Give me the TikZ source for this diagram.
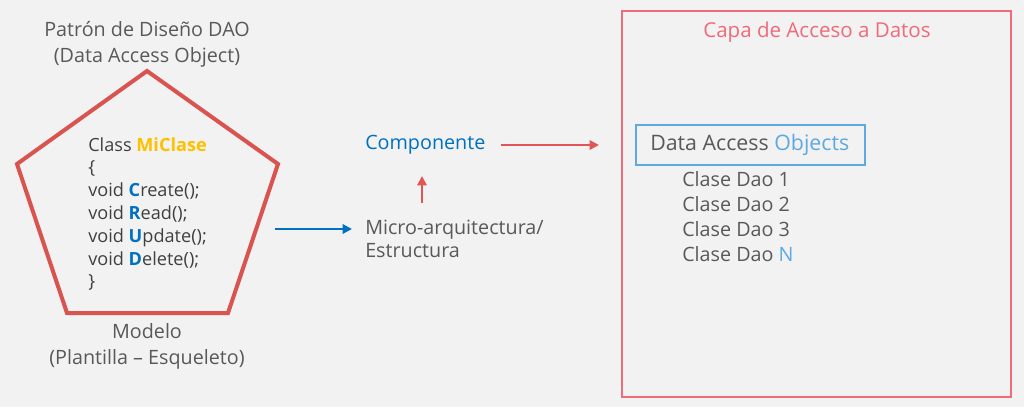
\documentclass[tikz,border=0pt]{standalone}
\usepackage{fontspec}
\setmainfont{Open Sans}
\usetikzlibrary{arrows.meta}
\definecolor{bg}{HTML}{F2F2F2}
\definecolor{txt}{HTML}{595959}
\definecolor{codetxt}{HTML}{404040}
\definecolor{penta}{HTML}{D9534F}
\definecolor{bluea}{HTML}{0070C0}
\definecolor{redarr}{HTML}{E05555}
\definecolor{pinkr}{HTML}{F06A7A}
\definecolor{lblue}{HTML}{5DA9E0}
\definecolor{gold}{HTML}{FFC000}
\tikzset{
  lbl/.style={text=txt, font=\fontsize{14.8}{19.5}\selectfont, align=center, inner sep=0pt},
  code/.style={text=codetxt, font=\fontsize{13.6}{17.1}\selectfont, align=left, inner sep=0pt, anchor=north west},
  arr/.style={line width=1.5pt, -{Triangle[length=7pt,width=7pt]}},
}
\begin{document}
\begin{tikzpicture}[x=0.75pt,y=-0.75pt]
\fill[bg] (0,0) rectangle (1024,407);
\useasboundingbox (0,0) rectangle (1024,407);
% pentagon
\coordinate (p1) at (147,71);
\coordinate (p2) at (278,164);
\coordinate (p3) at (228,313);
\coordinate (p4) at (67,313);
\coordinate (p5) at (17,164);
\draw[penta, line width=3pt, line join=miter] (p1) -- (p2) -- (p3) -- (p4) -- (p5) -- cycle;
\node[lbl] (title) at (147,44) {Patrón de Diseño DAO\\(Data Access Object)};
\node[lbl] (model) at (147,346) {Modelo\\(Plantilla – Esqueleto)};
\node[code] (cls) at (88,137) {Class \textbf{\color{gold}MiClase}\\
\{\\
void \textbf{\color{bluea}C}reate();\\
void \textbf{\color{bluea}R}ead();\\
void \textbf{\color{bluea}U}pdate();\\
void \textbf{\color{bluea}D}elete();\\
\}};
% middle
\coordinate (bstart) at (275,229);
\coordinate (bend) at (352,229);
\node[lbl, anchor=west, align=left, font=\fontsize{14.8}{17.3}\selectfont] (micro) at (365,238.5) {Micro-arquitectura/\\Estructura};
\node[lbl, anchor=west, text=bluea] (comp) at (365,145) {Componente};
\draw[arr, bluea] (bstart) -- (bend);
\coordinate (ua) at (422,203);
\coordinate (ub) at (422,176);
\draw[arr, redarr] (ua) -- (ub);
\coordinate (rend) at (599,145);
\draw[arr, redarr] (comp.east) ++(15,0) -- (rend);
% right box
\draw[pinkr, line width=1.5pt] (622,11) rectangle (1011,397);
\node[lbl, text=pinkr, font=\fontsize{15.4}{18}\selectfont] (capa) at (817,32) {Capa de Acceso a Datos};
\node[draw=lblue, line width=1.5pt, minimum width=229*0.75pt, minimum height=40*0.75pt, inner sep=0pt] (dao) at (750.5,145) {};
\node[lbl, anchor=west, font=\fontsize{16}{18}\selectfont] (daot) at (650,145) {Data Access {\color{lblue}Objects}};
\node[lbl, anchor=north west, align=left, font=\fontsize{14.8}{18.75}\selectfont] (list) at (682,171) {Clase Dao 1\\Clase Dao 2\\Clase Dao 3\\Clase Dao {\color{lblue}N}};
\end{tikzpicture}
\end{document}
